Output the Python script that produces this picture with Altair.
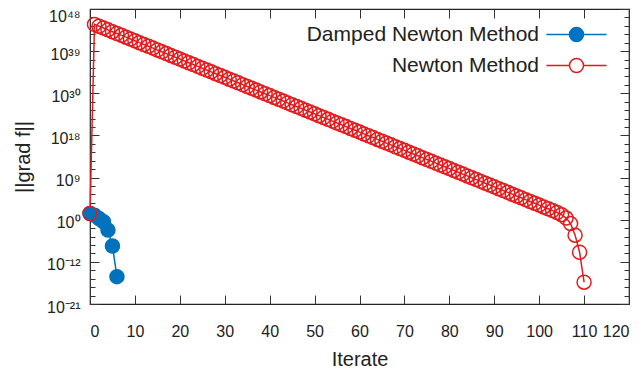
import altair as alt
import pandas as pd

damped_label = "Damped Newton Method"
newton_label = "Newton Method"

damped_iterate = [0, 1, 2, 3, 4, 5, 6]
damped_log10_grad = [0.18, -0.22, -0.99, -1.78, -3.72, -7.45, -14.6]

newton_iterate = [
    0, 1, 2, 3, 4, 5, 6, 7, 8, 9, 10, 11, 12, 13, 14, 15, 16, 17, 18, 19,
    20, 21, 22, 23, 24, 25, 26, 27, 28, 29, 30, 31, 32, 33, 34, 35, 36, 37, 38, 39,
    40, 41, 42, 43, 44, 45, 46, 47, 48, 49, 50, 51, 52, 53, 54, 55, 56, 57, 58, 59,
    60, 61, 62, 63, 64, 65, 66, 67, 68, 69, 70, 71, 72, 73, 74, 75, 76, 77, 78, 79,
    80, 81, 82, 83, 84, 85, 86, 87, 88, 89, 90, 91, 92, 93, 94, 95, 96, 97, 98, 99,
    100, 101, 102, 103, 104, 105, 106, 107, 108, 109, 110,
]
newton_log10_grad = [
    0.18, 44.40, 43.97, 43.55, 43.12, 42.69, 42.27, 41.84, 41.41, 40.98,
    40.56, 40.13, 39.70, 39.28, 38.85, 38.42, 37.99, 37.57, 37.14, 36.71,
    36.29, 35.86, 35.43, 35.01, 34.58, 34.15, 33.72, 33.30, 32.87, 32.44,
    32.02, 31.59, 31.16, 30.74, 30.31, 29.88, 29.45, 29.03, 28.60, 28.17,
    27.75, 27.32, 26.89, 26.47, 26.04, 25.61, 25.18, 24.76, 24.33, 23.90,
    23.48, 23.05, 22.62, 22.20, 21.77, 21.34, 20.92, 20.49, 20.06, 19.63,
    19.21, 18.78, 18.35, 17.93, 17.50, 17.07, 16.64, 16.22, 15.79, 15.36,
    14.94, 14.51, 14.08, 13.66, 13.23, 12.80, 12.38, 11.95, 11.52, 11.09,
    10.67, 10.24, 9.81, 9.39, 8.96, 8.53, 8.10, 7.68, 7.25, 6.82,
    6.40, 5.97, 5.54, 5.12, 4.69, 4.26, 3.84, 3.41, 2.98, 2.55,
    2.13, 1.70, 1.27, 0.85, 0.40, -0.10, -0.90, -2.20, -4.90, -8.90,
    -15.90,
]

x_ticks = [0, 10, 20, 30, 40, 50, 60, 70, 80, 90, 100, 110, 120]
y_tick_exponents = [-21, -11.143, -1.286, 8.571, 18.429, 28.286, 38.143, 48]
y_tick_labels = ["10⁻²¹", "10⁻¹²", "10⁰", "10⁹", "10¹⁸", "10³⁰", "10³⁹", "10⁴⁸"]

# table for the library
rows = []
for it, lg in zip(damped_iterate, damped_log10_grad):
    rows.append({"method": damped_label, "iterate": it, "grad": 10 ** lg})
for it, lg in zip(newton_iterate, newton_log10_grad):
    rows.append({"method": newton_label, "iterate": it, "grad": 10 ** lg})
df = pd.DataFrame(rows)

y_major = [10 ** e for e in y_tick_exponents]
y_minor = []
for i in range(len(y_tick_exponents) - 1):
    a, b = y_tick_exponents[i], y_tick_exponents[i + 1]
    for k in range(5):
        y_minor.append(10 ** (a + (b - a) * k / 5))
y_minor.append(10 ** y_tick_exponents[-1])

expr = ""
for i in range(len(y_tick_exponents) - 1):
    mid = (y_tick_exponents[i] + y_tick_exponents[i + 1]) / 2
    expr += f"datum.value < {10 ** mid:.6g} ? '{y_tick_labels[i]}' : "
expr += f"'{y_tick_labels[-1]}'"

FONT = "Liberation Sans"
TXT = "#222222"
BLUE = "#0072bd"
RED = "#e41a1c"

x_scale = alt.Scale(domain=[0, 120], nice=False, zero=False)
y_scale = alt.Scale(type="log", domain=[1e-21, 1e48], nice=False)
stroke_scale = alt.Scale(domain=[damped_label, newton_label], range=[BLUE, RED])
fill_scale = alt.Scale(domain=[damped_label, newton_label], range=[BLUE, "transparent"])

legend_path = "M-4.3,0H-1M1,0H4.3M1,0A1,1,0,1,1,-1,0A1,1,0,1,1,1,0"
legend = alt.Legend(
    title=None,
    orient="none",
    legendX=476,
    legendY=15,
    labelAlign="right",
    labelOffset={"expr": "-48"},
    labelLimit=400,
    symbolType=legend_path,
    symbolSize=196,
    symbolStrokeWidth=1.5,
    labelFont=FONT,
    labelFontSize=21,
    labelColor=TXT,
    rowPadding=9,
    padding=0,
)

base = alt.Chart(df)

lines = base.mark_line(strokeWidth=1.5).encode(
    x=alt.X("iterate:Q", scale=x_scale,
            axis=alt.Axis(values=x_ticks, orient="bottom", offset=-9, tickSize=9,
                          domain=False, grid=False, labelPadding=19, format="d",
                          title="Iterate", titlePadding=10)),
    y=alt.Y("grad:Q", scale=y_scale,
            axis=alt.Axis(values=y_major, orient="left", offset=-9, tickSize=9,
                          domain=False, grid=False, labelPadding=10, labelExpr=expr,
                          labelOffset={"condition": {"test": "datum.value > 1e40", "value": 7},
                                       "value": 3},
                          title="||grad f||", titlePadding=13)),
    stroke=alt.Stroke("method:N", scale=stroke_scale, legend=legend),
    order=alt.Order("iterate:Q"),
)

points = base.mark_point(shape="circle", size=196, strokeWidth=1.5, opacity=1).encode(
    x=alt.X("iterate:Q", scale=x_scale, axis=None),
    y=alt.Y("grad:Q", scale=y_scale, axis=None),
    stroke=alt.Stroke("method:N", scale=stroke_scale, legend=legend),
    fill=alt.Fill("method:N", scale=fill_scale, legend=legend),
)

ax_top_leftminor = base.mark_point(opacity=0).encode(
    x=alt.X("iterate:Q", scale=x_scale,
            axis=alt.Axis(values=x_ticks, orient="top", offset=-9, tickSize=9,
                          domain=False, grid=False, labels=False, title=None)),
    y=alt.Y("grad:Q", scale=y_scale,
            axis=alt.Axis(values=y_minor, orient="left", offset=-5, tickSize=5,
                          domain=False, grid=False, labels=False, title=None)),
)

ax_right_major = base.mark_point(opacity=0).encode(
    x=alt.X("iterate:Q", scale=x_scale, axis=None),
    y=alt.Y("grad:Q", scale=y_scale,
            axis=alt.Axis(values=y_major, orient="right", offset=-9, tickSize=9,
                          domain=False, grid=False, labels=False, title=None)),
)

ax_right_minor = base.mark_point(opacity=0).encode(
    x=alt.X("iterate:Q", scale=x_scale, axis=None),
    y=alt.Y("grad:Q", scale=y_scale,
            axis=alt.Axis(values=y_minor, orient="right", offset=-5, tickSize=5,
                          domain=False, grid=False, labels=False, title=None)),
)

chart = (
    alt.layer(lines, points, ax_top_leftminor, ax_right_major, ax_right_minor)
    .resolve_axis(x="independent", y="independent")
    .properties(
        width=539,
        height=295,
        autosize=alt.AutoSizeParams(type="none"),
        padding={"left": 82, "top": 1, "right": 6, "bottom": 65},
        background="white",
    )
    .configure_view(stroke="#222222", strokeWidth=1.2)
    .configure_axis(
        labelFont=FONT, labelFontSize=16, labelColor=TXT,
        titleFont=FONT, titleFontSize=20, titleFontWeight="normal", titleColor=TXT,
        tickColor="#333333", tickWidth=1,
    )
)

chart.save("out.html", embed_options={"renderer": "svg", "actions": False})
